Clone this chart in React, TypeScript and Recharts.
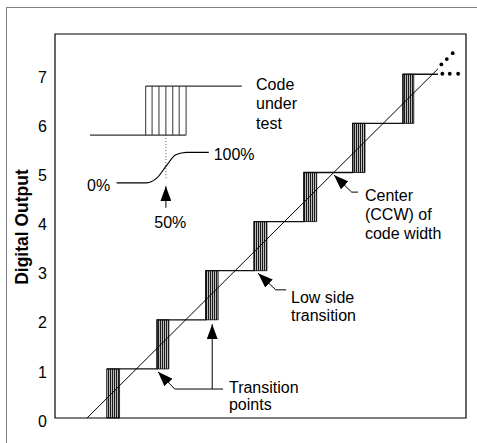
import React from 'react'
import { ComposedChart, Line, Scatter, XAxis, YAxis, ReferenceArea, ReferenceLine, ReferenceDot } from 'recharts'

const FONT = '"Liberation Sans", Arial, sans-serif'

// output codes and axis ticks
const codes = [1, 2, 3, 4, 5, 6, 7]
const yTicks = [0, 1, 2, 3, 4, 5, 6, 7]
const xMax = 8.34
const yMax = 7.82

// transition band for each code (analog input units)
const bandStart = [1.05, 2.07, 3.06, 4.04, 5.05, 6.04, 7.06]
const bandEnd = [1.31, 2.31, 3.31, 4.3, 5.31, 6.29, 7.28]
const lastCodeEnd = 7.77

const stairData = bandStart.map((x, i) => ({ x, y: codes[i] })).concat([{ x: lastCodeEnd, y: 7 }])
const idealLine = [{ x: 0.65, y: 0 }, { x: 7.77, y: 7.11 }]
const moreDots = [
  { x: 7.84, y: 7.2 }, { x: 7.95, y: 7.31 }, { x: 8.07, y: 7.43 },
  { x: 7.86, y: 7.01 }, { x: 8.01, y: 7.01 }, { x: 8.18, y: 7.01 },
]

// inset: code under test
const insetLow = 5.76
const insetHigh = 6.76
const insetStrokes = [1.84, 1.97, 2.11, 2.25, 2.39, 2.52, 2.66]
const insetLowLine = [{ x: 0.71, y: insetLow }, { x: 2.66, y: insetLow }]
const insetHighLine = [{ x: 1.84, y: insetHigh }, { x: 3.79, y: insetHigh }]
const midMark = [{ x: 2.25, y: insetLow }, { x: 2.25, y: 4.85 }]
const sCurve = [
  { x: 1.25, y: 4.79 }, { x: 1.86, y: 4.79 }, { x: 2.07, y: 4.89 }, { x: 2.27, y: 5.15 },
  { x: 2.45, y: 5.36 }, { x: 2.67, y: 5.41 }, { x: 3.12, y: 5.41 },
]

// arrows, first point is the tip
const arrowCenter = [{ x: 5.66, y: 4.95 }, { x: 6.02, y: 4.6 }, { x: 6.15, y: 4.6 }]
const arrowLowSide = [{ x: 4.12, y: 2.95 }, { x: 4.48, y: 2.61 }, { x: 4.69, y: 2.61 }]
const arrowTrans1 = [{ x: 2.09, y: 0.94 }, { x: 2.43, y: 0.59 }, { x: 3.41, y: 0.59 }]
const arrowTrans2 = [{ x: 3.19, y: 1.91 }, { x: 3.19, y: 0.59 }]
const arrow50 = [{ x: 2.25, y: 4.72 }, { x: 2.25, y: 4.28 }]

const notes = [
  { x: 4.08, y: 6.68, lines: ['Code', 'under', 'test'], anchor: 'start', gap: 19.5 },
  { x: 1.12, y: 4.63, lines: ['0%'], anchor: 'end', gap: 19 },
  { x: 3.22, y: 5.26, lines: ['100%'], anchor: 'start', gap: 19 },
  { x: 2.34, y: 3.87, lines: ['50%'], anchor: 'middle', gap: 19 },
  { x: 6.29, y: 4.41, lines: ['Center', '(CCW) of', 'code width'], anchor: 'start', gap: 19 },
  { x: 4.79, y: 2.34, lines: ['Low side', 'transition'], anchor: 'start', gap: 17.5 },
  { x: 3.53, y: 0.51, lines: ['Transition', 'points'], anchor: 'start', gap: 17.5 },
]

const lineProps = { dataKey: 'y', dot: false, activeDot: false, isAnimationActive: false, legendType: 'none' as const }

export default function App() {
  return (
    <div style={{ position: 'absolute', left: 0, top: 0, width: 477, height: 443, overflow: 'hidden', background: '#fff', fontFamily: FONT }}>
      <div style={{ position: 'absolute', left: 6, top: 7, width: 520, height: 520, borderLeft: '1.5px solid #808080', borderTop: '1.5px solid #808080' }} />
      <div style={{ position: 'absolute', left: 0, top: 0 }}>
        <ComposedChart width={477} height={443} margin={{ top: 34, right: 11, bottom: 25, left: 0 }}>
          <defs>
            <pattern id="hatch" width="2" height="4" patternUnits="userSpaceOnUse">
              <rect width="2" height="4" fill="#bdbdbd" />
              <rect width="1" height="4" fill="#1a1a1a" />
            </pattern>
            <marker id="head" viewBox="0 0 15 11" refX="15" refY="5.5" markerWidth="15" markerHeight="11"
              markerUnits="userSpaceOnUse" orient="auto-start-reverse">
              <path d="M0,0 L15,5.5 L0,11 z" fill="#000" />
            </marker>
          </defs>
          <XAxis type="number" dataKey="x" domain={[0, xMax]} hide allowDataOverflow />
          <YAxis type="number" domain={[0, yMax]} ticks={yTicks} interval={0} width={55}
            axisLine={false} tickLine={false} tickSize={0} tickMargin={8} allowDataOverflow
            tick={{ fontSize: 16, fill: '#000', fontFamily: FONT, dy: 3 }}
            label={{
              content: (p: any) => {
                const vb = p.viewBox || { x: 0, y: 34, width: 55, height: 384 }
                const cx = vb.x + 22
                const cy = vb.y + vb.height / 2 + 1
                return (
                  <text x={cx} y={cy} transform={`rotate(-90 ${cx} ${cy})`} textAnchor="middle"
                    dominantBaseline="central" fontSize={17.5} fontWeight="bold" fontFamily={FONT} fill="#000">
                    Digital Output
                  </text>
                )
              },
            }} />

          {codes.map((c, i) => (
            <ReferenceArea key={'b' + c} x1={bandStart[i]} x2={bandEnd[i]} y1={c - 1} y2={c}
              fill="url(#hatch)" fillOpacity={1} stroke="#000" strokeWidth={0.8} ifOverflow="visible" />
          ))}
          <Line {...lineProps} data={stairData} type="stepAfter" stroke="#111" strokeWidth={1.3} />
          <Line {...lineProps} data={idealLine} type="linear" stroke="#000" strokeWidth={1} />
          <Scatter data={moreDots} dataKey="y" isAnimationActive={false} legendType="none"
            shape={(p: any) => <circle cx={p.cx} cy={p.cy} r={1.9} fill="#000" />} />

          {/* inset */}
          <Line {...lineProps} data={insetLowLine} type="linear" stroke="#333" strokeWidth={1.2} />
          <Line {...lineProps} data={insetHighLine} type="linear" stroke="#333" strokeWidth={1.2} />
          {insetStrokes.map((x) => (
            <ReferenceLine key={'s' + x} segment={[{ x, y: insetLow }, { x, y: insetHigh }]}
              stroke="#333" strokeWidth={1} ifOverflow="visible" />
          ))}
          <Line {...lineProps} data={midMark} type="linear" stroke="#555" strokeWidth={1} strokeDasharray="1 2" />
          <Line {...lineProps} data={sCurve} type="monotone" stroke="#000" strokeWidth={1.2} />

          {[arrowCenter, arrowLowSide, arrowTrans1, arrowTrans2, arrow50].map((a, i) => (
            <Line key={'a' + i} {...lineProps} data={a} type="linear" stroke="#000" strokeWidth={1}
              markerStart="url(#head)" />
          ))}

          {notes.map((n, i) => (
            <ReferenceDot key={'n' + i} x={n.x} y={n.y} r={0} ifOverflow="visible"
              shape={(p: any) => (
                <text x={p.cx} y={p.cy} textAnchor={n.anchor as any} fontSize={16} fontFamily={FONT} fill="#000">
                  {n.lines.map((t, j) => (
                    <tspan key={j} x={p.cx} dy={j === 0 ? 0 : n.gap}>{t}</tspan>
                  ))}
                </text>
              )} />
          ))}

          <ReferenceArea x1={0} x2={xMax} y1={0} y2={yMax} fill="none" stroke="#000" strokeWidth={1.2} ifOverflow="visible" />
        </ComposedChart>
      </div>
    </div>
  )
}
